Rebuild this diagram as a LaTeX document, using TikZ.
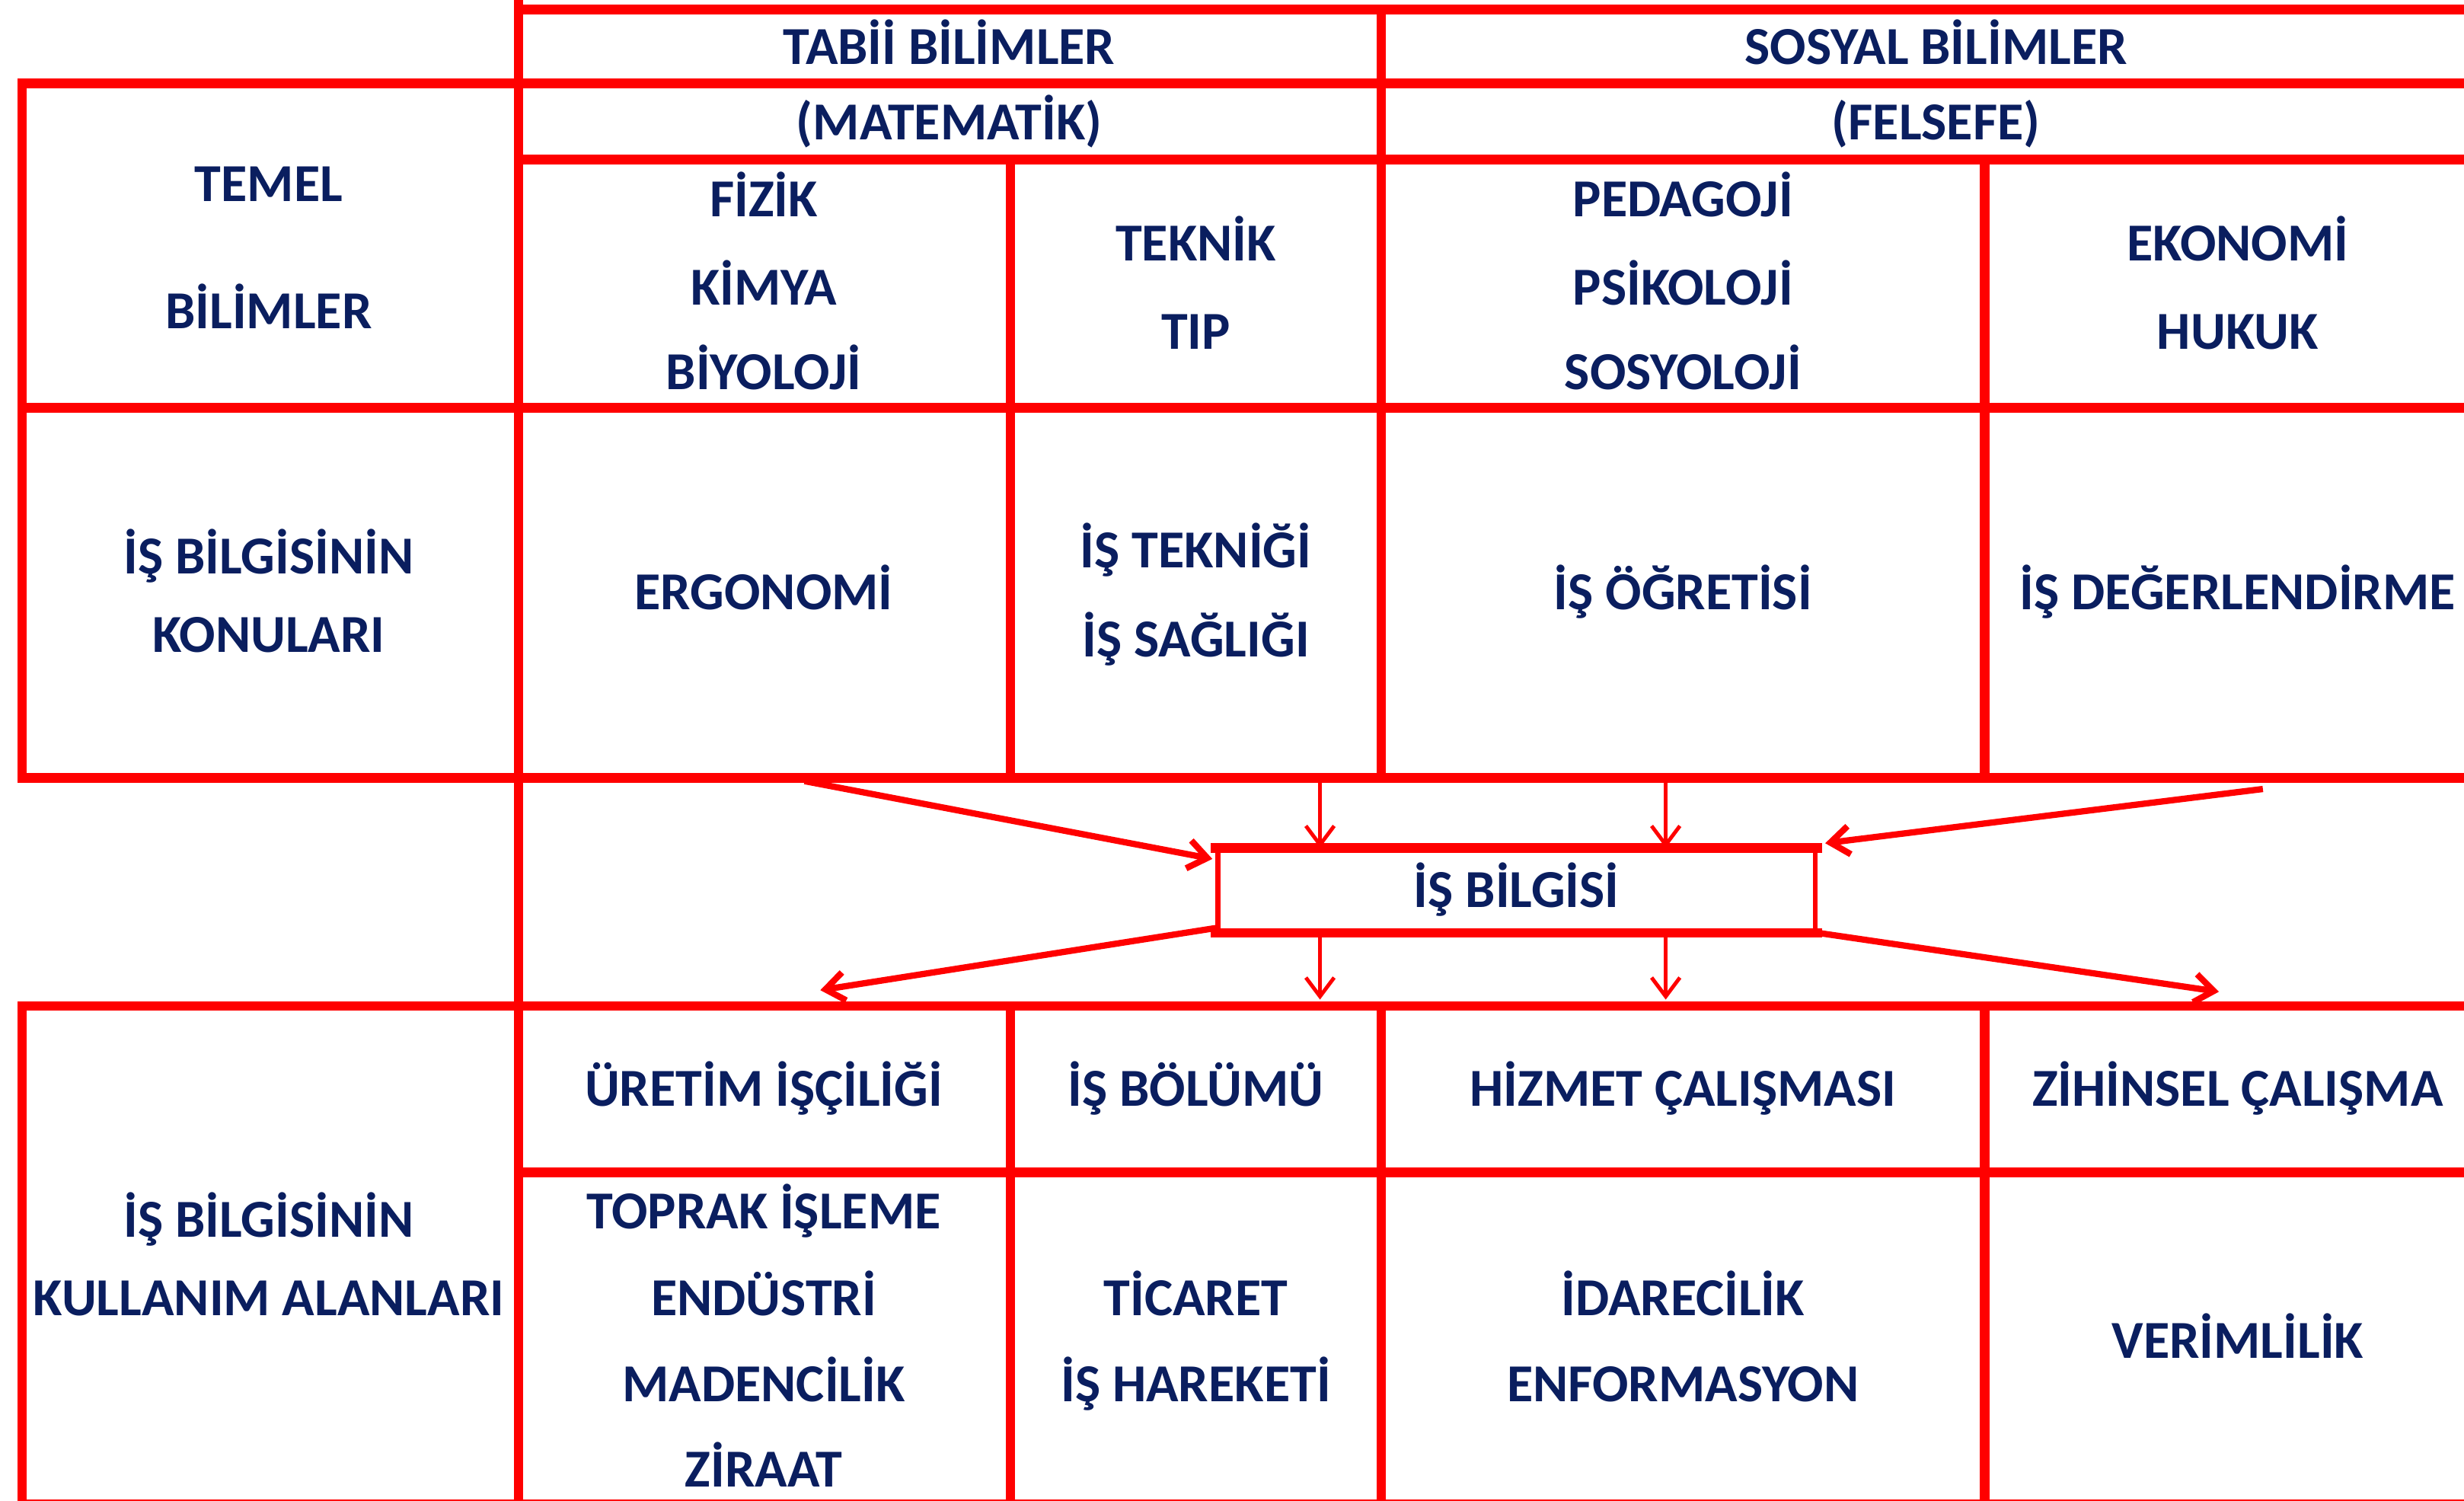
\documentclass[tikz,border=0pt]{standalone}
\usepackage{fontspec}
\setmainfont{Carlito}
\usetikzlibrary{arrows.meta,calc}
\definecolor{tred}{RGB}{255,0,0}
\definecolor{tnavy}{RGB}{10,30,95}
\begin{document}
\begin{tikzpicture}[x=0.5pt,y=-0.5pt,
  grid/.style={draw=tred,line width=3pt},
  lbl/.style={font=\fontsize{17}{20}\selectfont\bfseries,text=tnavy,inner sep=0pt,text height=11pt,text depth=0pt,anchor=center},
  isbox/.style={lbl,draw=tred,line width=1.5pt,minimum width=190pt,minimum height=25.5pt},
  arr/.style={draw=tred,line width=1.2pt,-{Straight Barb[length=6pt,width=9pt]}},
  darr/.style={arr,line width=2pt}]
\useasboundingbox (0,0) rectangle (1568,955);
\clip (0,0) rectangle (1568,955);
% upper table
\draw[grid] (14,53) rectangle (1600,495);
\draw[grid] (330,6) -- (1600,6);
\draw[grid] (330,0) -- (330,960);
\draw[grid] (330,101.5) -- (1600,101.5);
\draw[grid] (14,259.5) -- (1600,259.5);
\draw[grid] (879,6) -- (879,495);
\draw[grid] (643,101.5) -- (643,495);
\draw[grid] (1263,101.5) -- (1263,495);
% lower table
\draw[grid] (14,640) rectangle (1600,957);
\draw[grid] (330,746) -- (1600,746);
\draw[grid] (643,640) -- (643,957);
\draw[grid] (879,640) -- (879,957);
\draw[grid] (1263,640) -- (1263,957);
% header texts
\node[lbl] (tabii) at (604,30) {TABİİ BİLİMLER};
\node[lbl] (sosyal) at (1232,30) {SOSYAL BİLİMLER};
\node[lbl] (mat) at (604,78) {(MATEMATİK)};
\node[lbl] (fel) at (1232,78) {(FELSEFE)};
\node[lbl] (temel) at (171,117) {TEMEL};
\node[lbl] (bilimler) at (171,198) {BİLİMLER};
\node[lbl] (fizik) at (486,127) {FİZİK};
\node[lbl] (kimya) at (486,183) {KİMYA};
\node[lbl] (biyo) at (486,237) {BİYOLOJİ};
\node[lbl] (teknik) at (761,155) {TEKNİK};
\node[lbl] (tip) at (761,211) {TIP};
\node[lbl] (peda) at (1071,127) {PEDAGOJİ};
\node[lbl] (psiko) at (1071,183) {PSİKOLOJİ};
\node[lbl] (sosyo) at (1071,237) {SOSYOLOJİ};
\node[lbl] (eko) at (1424,155) {EKONOMİ};
\node[lbl] (hukuk) at (1424,211) {HUKUK};
% konular row
\node[lbl] (kon1) at (171,354) {İŞ BİLGİSİNİN};
\node[lbl] (kon2) at (171,404) {KONULARI};
\node[lbl] (ergo) at (486,377) {ERGONOMİ};
\node[lbl] (tekn) at (761,350) {İŞ TEKNİĞİ};
\node[lbl] (sagl) at (761,407) {İŞ SAĞLIĞI};
\node[lbl] (ogret) at (1071,377) {İŞ ÖĞRETİSİ};
\node[lbl] (deger) at (1424,377) {İŞ DEĞERLENDİRME};
% central box
\node[isbox] (isb) at (965,566.5) {İŞ BİLGİSİ};
\draw[tred,line width=3pt,line cap=rect] (isb.north west) -- (isb.north east);
\draw[tred,line width=3pt,line cap=rect] (isb.south west) -- (isb.south east);
% arrow end points
\coordinate (a1) at (512,497);
\coordinate (a2) at (840,497);
\coordinate (a3) at (1060,497);
\coordinate (a4) at (1440,502);
\coordinate (b1) at (522,630);
\coordinate (b2) at (840,636);
\coordinate (b3) at (1060,636);
\coordinate (b4) at (1412,631);
\draw[darr] (a1) -- ($(isb.north west)+(-2,7)$);
\draw[arr] (a2) -- (isb.north -| a2);
\draw[arr] (a3) -- (isb.north -| a3);
\draw[darr] (a4) -- ($(isb.north east)+(5,-3)$);
\draw[darr] ($(isb.south west)+(0,-3)$) -- (b1);
\draw[arr] (isb.south -| b2) -- (b2);
\draw[arr] (isb.south -| b3) -- (b3);
\draw[darr] (isb.south east) -- (b4);
% usage rows
\node[lbl] (uret) at (486,693) {ÜRETİM İŞÇİLİĞİ};
\node[lbl] (bolum) at (761,693) {İŞ BÖLÜMÜ};
\node[lbl] (hizmet) at (1071,693) {HİZMET ÇALIŞMASI};
\node[lbl] (zihin) at (1424,693) {ZİHİNSEL ÇALIŞMA};
\node[lbl] (kul1) at (171,776) {İŞ BİLGİSİNİN};
\node[lbl] (kul2) at (171,826) {KULLANIM ALANLARI};
\node[lbl] (toprak) at (486,771) {TOPRAK İŞLEME};
\node[lbl] (endus) at (486,826) {ENDÜSTRİ};
\node[lbl] (maden) at (486,881) {MADENCİLİK};
\node[lbl] (ziraat) at (486,935) {ZİRAAT};
\node[lbl] (ticaret) at (761,826) {TİCARET};
\node[lbl] (hareket) at (761,881) {İŞ HAREKETİ};
\node[lbl] (idare) at (1071,826) {İDARECİLİK};
\node[lbl] (enfo) at (1071,881) {ENFORMASYON};
\node[lbl] (verim) at (1424,853) {VERİMLİLİK};
\end{tikzpicture}
\end{document}
